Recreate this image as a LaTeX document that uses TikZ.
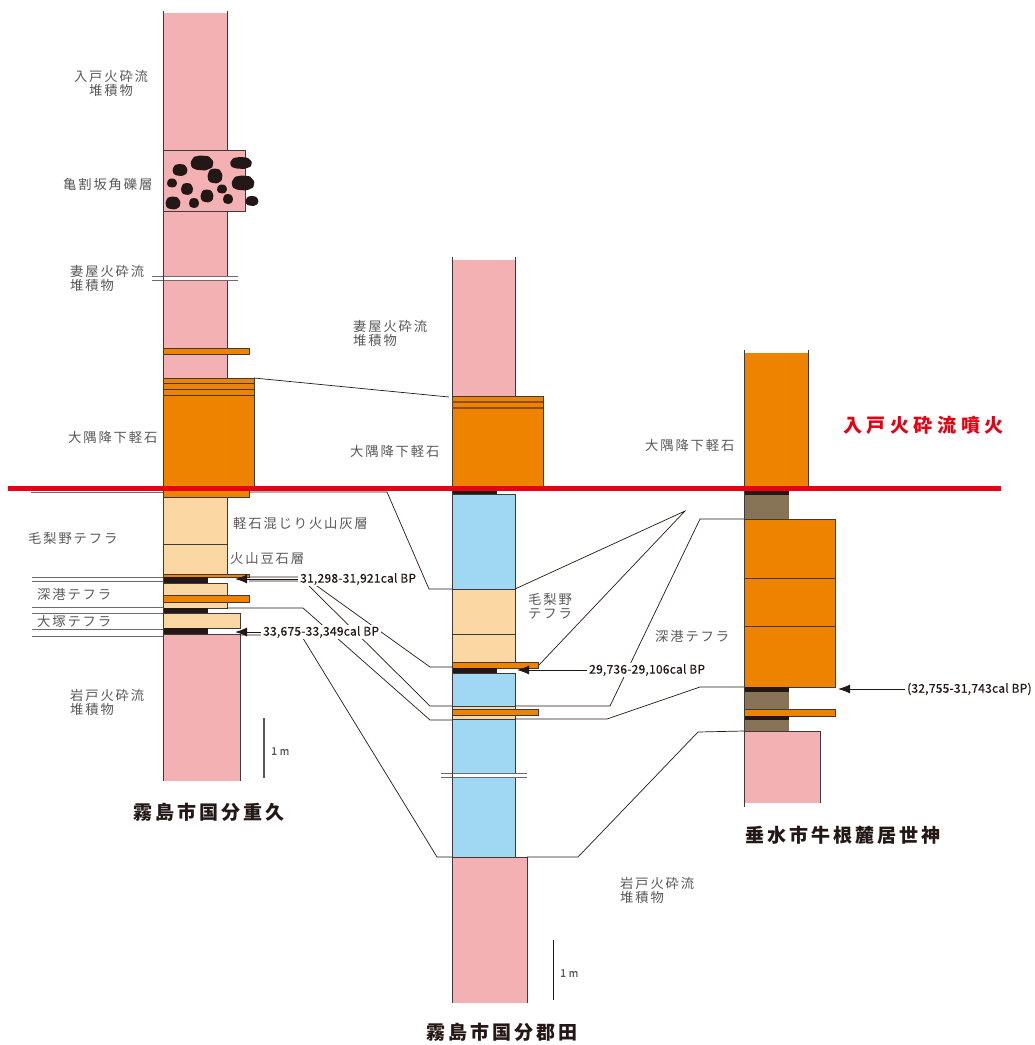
\documentclass[tikz,border=0pt]{standalone}
\usepackage{fontspec}
\usetikzlibrary{arrows.meta}

\newfontfamily\labelfont[LetterSpace=14]{Noto Sans CJK JP}
\newfontfamily\titlefont[LetterSpace=16]{Noto Sans CJK JP}
\newfontfamily\eruptfont[LetterSpace=24]{Noto Sans CJK JP}
\newfontfamily\agefont[LetterSpace=2, FakeBold=0.5]{Noto Sans CJK JP}

\definecolor{pyro}{HTML}{F3B1B3}
\definecolor{pumice}{HTML}{EE8300}
\definecolor{tephra}{HTML}{FBD8A3}
\definecolor{loam}{HTML}{A0D8F4}
\definecolor{humic}{HTML}{877456}
\definecolor{soot}{HTML}{231815}
\definecolor{eruption}{HTML}{E60012}
\definecolor{edge}{HTML}{3E3A39}
\definecolor{note}{HTML}{595757}

\begin{document}
\begin{tikzpicture}[x=1pt, y=-1pt,
		pk/.style = {fill=pyro, draw=edge, line width=0.8pt},
		or/.style = {fill=pumice, draw=edge, line width=0.8pt},
		tn/.style = {fill=tephra, draw=edge, line width=0.8pt},
		bl/.style = {fill=loam, draw=edge, line width=0.8pt},
		side/.style = {draw=edge, line width=0.8pt},
		gap/.style = {draw=edge!75, line width=0.8pt},
		tie/.style = {draw=soot, line width=0.7pt},
		lab/.style = {text=note, font=\labelfont\fontsize{13.3}{14}\selectfont, inner sep=0pt, anchor=west, align=left},
		age/.style = {fill=white, text=soot, font=\agefont\fontsize{12}{13}\selectfont, inner xsep=2pt, inner ysep=1pt, anchor=west},
		ttl/.style = {text=soot, font=\titlefont\bfseries\fontsize{19}{20}\selectfont, inner sep=0pt},
		ar/.style = {draw=soot, line width=1pt, -{Latex[length=12pt, width=9pt]}}
		]
		\useasboundingbox (0,0) rectangle (1035,1045);
		
		%Left column
		\fill[pyro] (163,13) rectangle (227,378);
		\draw[side] (163,11) -- (163,781);
		\draw[side] (227,11) -- (227,378);
		\filldraw[pk] (163,150) rectangle (245,211);
		\foreach \cx/\cy/\w/\h in {180/170/15/12, 202/163/23/15, 241/163/22/12, 215/176/15/15,
				172/183/10/9, 187/189/12/12, 243/183/23/15, 222/189/10/9, 207/196/13/13,
				173/203/15/13, 194/203/10/10, 228/199/10/10, 252/201/13/10}
			\fill[soot, shift={(\cx,\cy)}, rounded corners=1pt]
				({-0.5*\w},{-0.05*\h}) -- ({-0.35*\w},{-0.42*\h}) -- ({-0.05*\w},{-0.5*\h}) -- ({0.3*\w},{-0.45*\h})
				-- ({0.5*\w},{-0.1*\h}) -- ({0.45*\w},{0.3*\h}) -- ({0.15*\w},{0.5*\h})
				-- ({-0.25*\w},{0.45*\h}) -- ({-0.45*\w},{0.3*\h}) -- cycle;
		\fill[white] (152,276.5) rectangle (238,279.5);
		\draw[gap] (152,276) -- (238,276) (152,280) -- (238,280);
		\filldraw[or] (163,348) rectangle (249,354);
		\filldraw[or] (163,378) rectangle (254,487);
		\draw[side] (163,383.5) -- (254,383.5) (163,389) -- (254,389) (163,395) -- (254,395);
		\filldraw[or] (163,487) rectangle (249,497);
		\filldraw[tn] (163,497) rectangle (227,544);
		\filldraw[tn] (163,544) rectangle (227,575);
		\filldraw[or] (163,574.5) rectangle (249,577);
		\fill[soot] (163,577) rectangle (208,583);
		\filldraw[tn] (163,583) rectangle (227,608);
		\filldraw[or] (163,595) rectangle (249,602);
		\fill[soot] (163,608) rectangle (208,613);
		\filldraw[tn] (163,613) rectangle (240,628);
		\fill[soot] (163,628) rectangle (208,634);
		\fill[pyro] (163,634) rectangle (240,781);
		\draw[side] (163,634) -- (240,634) -- (240,781);
		\draw[side] (163,11) -- (163,781);
		\draw[gap] (32,577) -- (163,577) (32,581) -- (163,581) (32,607.5) -- (163,607.5)
			(32,613) -- (163,613) (32,629) -- (163,629) (32,636) -- (163,636);
		\draw[gap] (31,492) -- (163,492);
		
		%Middle column
		\fill[pyro] (452,260) rectangle (515,396);
		\draw[side] (452,257) -- (452,396) (515,257) -- (515,396);
		\filldraw[or] (452,396) rectangle (543,487);
		\draw[draw=pumice!60!black, line width=1.2pt] (452,402) -- (543,402) (452,408) -- (543,408);
		\fill[soot] (452,490) rectangle (497,494);
		\filldraw[bl] (452,494) rectangle (515,589);
		\filldraw[tn] (452,589) rectangle (515,634);
		\filldraw[tn] (452,634) rectangle (515,662);
		\filldraw[or] (452,662) rectangle (538,668);
		\fill[soot] (452,668) rectangle (497,673);
		\filldraw[bl] (452,673) rectangle (515,706);
		\filldraw[tn] (452,706) rectangle (515,719);
		\filldraw[or] (452,709) rectangle (538,715);
		\filldraw[bl] (452,719) rectangle (515,857);
		\fill[white] (441,773.5) rectangle (527,776.5);
		\draw[gap] (441,773) -- (527,773) (441,777) -- (527,777);
		\fill[pyro] (452,857) rectangle (527,1003);
		\draw[side] (452,857) -- (527,857) -- (527,1003);
		\draw[side] (452,487) -- (452,1003);
		
		%Right column
		\fill[pumice] (744,353) rectangle (808,487);
		\draw[side] (744,350) -- (744,487) (808,350) -- (808,487);
		\fill[soot] (744,489) rectangle (789,495);
		\fill[humic] (744,495) rectangle (789,519);
		\filldraw[or] (744,519) rectangle (835,578);
		\filldraw[or] (744,578) rectangle (835,626);
		\filldraw[or] (744,626) rectangle (835,687);
		\fill[soot] (744,687) rectangle (789,692);
		\fill[humic] (744,692) rectangle (789,709);
		\filldraw[or] (744,709) rectangle (835,716);
		\fill[soot] (744,716) rectangle (789,720);
		\fill[humic] (744,720) rectangle (789,731);
		\fill[pyro] (744,731) rectangle (820,803);
		\draw[side] (744,731) -- (820,731) -- (820,803);
		\draw[side] (744,487) -- (744,807);
		
		%Tie points
		\coordinate (lOsTop) at (254,378);
		\coordinate (mOsTop) at (449,397);
		\coordinate (lKeTop) at (249,492);
		\coordinate (mKeTop) at (452,589);
		\coordinate (mKeR) at (515,589);
		\coordinate (pinch) at (685,511);
		\coordinate (mKeBand) at (539,665);
		\coordinate (lFkTop) at (249,577);
		\coordinate (mFkTop) at (452,706);
		\coordinate (lAge) at (249,581);
		\coordinate (mAge) at (452,667);
		\coordinate (lFkBase) at (227,608);
		\coordinate (mFkBase) at (452,720);
		\coordinate (lIwTop) at (240,635);
		\coordinate (mIwTop) at (452,857);
		\coordinate (rFkTop) at (744,519);
		\coordinate (mFkTopR) at (515,706);
		\coordinate (rFkBase) at (744,687);
		\coordinate (mFkBaseR) at (515,719);
		\coordinate (rIwTop) at (744,731);
		\coordinate (mIwTopR) at (527,857);
		
		%Lines
		\draw[tie] (lOsTop) -- (mOsTop);
		\draw[tie] (254,490.8) -- (744,490.8);
		\draw[tie] (lKeTop) -- (387,492) -- (429,589) -- (mKeTop);
		\draw[tie] (mKeR) -- (pinch) -- (mKeBand);
		\draw[tie] (lFkTop) -- (300,577) -- (430,706) -- (mFkTop);
		\draw[tie] (lAge) -- (310,581) -- (430,667) -- (mAge);
		\draw[tie] (lFkBase) -- (303,608) -- (430,720) -- (mFkBase);
		\draw[tie] (lIwTop) -- (301,635) -- (437,857) -- (mIwTop);
		\draw[tie] (rFkTop) -- (700,519) -- (610,706) -- (mFkTopR);
		\draw[tie] (rFkBase) -- (700,687) -- (607,719) -- (mFkBaseR);
		\draw[tie] (rIwTop) -- (698,732) -- (578,857) -- (mIwTopR);
		
		%Eruption horizon
		\draw[eruption, line width=5pt] (8,488.5) -- (1001,488.5);
		
		%Labels
		\node[lab, anchor=center, align=center] (itoL) at (111,83) {入戸火砕流\\堆積物};
		\node[lab] (kamewari) at (63,184) {亀割坂角礫層};
		\node[lab] (tsumayaL) at (70,278) {妻屋火砕流\\堆積物};
		\node[lab] (osumiL) at (68,437) {大隅降下軽石};
		\node[lab] (kenashinoL) at (28,538) {毛梨野テフラ};
		\node[lab] (ashbed) at (233,523) {軽石混じり火山灰層};
		\node[lab] (pisolite) at (230,559) {火山豆石層};
		\node[lab] (fukaL) at (37,594) {深港テフラ};
		\node[lab] (otsuka) at (37,621) {大塚テフラ};
		\node[lab] (iwatoL) at (70,702) {岩戸火砕流\\堆積物};
		\node[lab] (tsumayaM) at (353,333) {妻屋火砕流\\堆積物};
		\node[lab] (osumiM) at (350,451) {大隅降下軽石};
		\node[lab] (kenashinoM) at (528,606) {毛梨野\\テフラ};
		\node[lab] (fukaM) at (655,636) {深港テフラ};
		\node[lab] (iwatoM) at (620,890) {岩戸火砕流\\堆積物};
		\node[lab] (osumiR) at (645,445) {大隅降下軽石};
		\node[text=eruption, font=\eruptfont\bfseries\fontsize{19}{20}\selectfont, inner sep=0pt, anchor=west] (ito) at (843,425) {入戸火砕流噴火};
		
		%Ages
		\coordinate (lDateA) at (235,579);
		\coordinate (lDateB) at (235,632);
		\coordinate (mDate) at (517,670);
		\coordinate (rDate) at (838,689);
		\node[age] (ageLA) at (298,579) {31,298-31,921cal BP};
		\node[age] (ageLB) at (261,632) {33,675-33,349cal BP};
		\node[age] (ageM) at (587,670) {29,736-29,106cal BP};
		\node[age] (ageR) at (905,689) {(32,755-31,743cal BP)};
		\draw[ar] (ageLA.west) -- (lDateA);
		\draw[ar] (ageLB.west) -- (lDateB);
		\draw[ar] (ageM.west) -- (mDate);
		\draw[ar] (ageR.west) -- (rDate);
		
		%Scale bars
		\draw[draw=note, line width=1.2pt] (264,718) -- (264,778);
		\node[lab, font=\agefont\fontsize{10.5}{12}\selectfont] (meterL) at (271,751) {1 m};
		\draw[draw=soot, line width=1pt] (553,940) -- (553,1000);
		\node[lab, font=\agefont\fontsize{10.5}{12}\selectfont] (meterM) at (560,973) {1 m};
		
		%Site names
		\node[ttl] (siteL) at (209,812) {霧島市国分重久};
		\node[ttl] (siteM) at (502,1032) {霧島市国分郡田};
		\node[ttl] (siteR) at (843,835) {垂水市牛根麓居世神};
	\end{tikzpicture}
\end{document}
